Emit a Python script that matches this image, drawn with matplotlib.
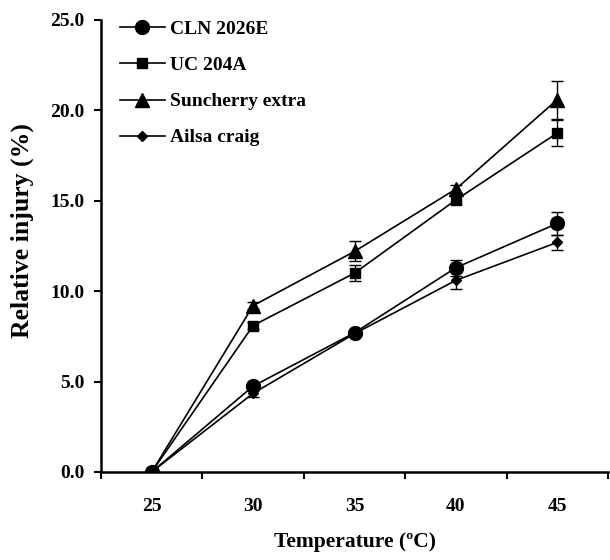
import matplotlib
matplotlib.use("Agg")
import matplotlib.pyplot as plt
from matplotlib.lines import Line2D
import numpy as np

temps = ["25", "30", "35", "40", "45"]
series_names = ["CLN 2026E", "UC 204A", "Suncherry extra", "Ailsa craig"]
cln = [0.0, 4.75, 7.7, 11.3, 13.75]
uc = [0.0, 8.1, 11.0, 15.05, 18.75]
sun = [0.0, 9.2, 12.2, 15.65, 20.6]
ail = [0.0, 4.35, 7.65, 10.6, 12.7]
cln_err = [0.05, 0.2, 0.15, 0.45, 0.65]
uc_err = [0.05, 0.2, 0.45, 0.25, 0.7]
sun_err = [0.05, 0.2, 0.55, 0.2, 1.05]
ail_err = [0.05, 0.2, 0.15, 0.5, 0.4]
yticks = [0.0, 5.0, 10.0, 15.0, 20.0, 25.0]

plt.rcParams['font.family'] = ['Liberation Serif', 'DejaVu Serif']
plt.rcParams['font.weight'] = 'bold'

fig = plt.figure(figsize=(6.1, 5.6), dpi=100)
ax = fig.add_axes([101/610, 1 - 472/560, (608-101)/610, (472-20)/560])

x = np.arange(len(temps))
styles = [("o", 10), ("s", 7.5), ("^", 9.5), ("D", 5.5)]
data = [cln, uc, sun, ail]
errs = [cln_err, uc_err, sun_err, ail_err]
handles = []
for name, vals, e, (m, ms) in zip(series_names, data, errs, styles):
    ax.errorbar(x, vals, yerr=e, color='black', marker=m, markersize=ms,
                linewidth=1.2, elinewidth=1.0, capsize=4, capthick=1.0)
    handles.append(Line2D([], [], color='black', marker=m, markersize=ms,
                          linewidth=1.2, label=name))

ax.set_xlim(-0.5, len(temps) - 0.5)
ax.set_ylim(0, 25)
ax.set_yticks(yticks)
ax.set_yticklabels([f"{v:.1f}" for v in yticks])
ax.set_xticks(np.arange(len(temps) + 1) - 0.5)
ax.set_xticklabels([])
ax.set_xticks(x, minor=True)
ax.set_xticklabels(temps, minor=True, fontsize=14)
ax.tick_params(axis='x', which='minor', length=0, pad=19)
ax.tick_params(axis='x', which='major', direction='out', length=5, width=1.5)
ax.tick_params(axis='y', direction='out', length=5, width=1.5, labelsize=14, pad=7)
for s in ['top', 'right']:
    ax.spines[s].set_visible(False)
for s in ['left', 'bottom']:
    ax.spines[s].set_linewidth(1.8)

ax.set_ylabel("Relative injury (%)", fontsize=18.5, fontweight='bold')
ax.yaxis.set_label_coords(-0.132, 0.535)
ax.set_xlabel("Temperature (ºC)", fontsize=15.5, fontweight='bold', labelpad=12)

leg = ax.legend(handles=handles, loc='upper left', bbox_to_anchor=(0.022, 1.016),
                frameon=False, fontsize=14, labelspacing=0.95, handlelength=2.3,
                handletextpad=0.3, borderaxespad=0.0)

fig.savefig("out.png", dpi=100)
